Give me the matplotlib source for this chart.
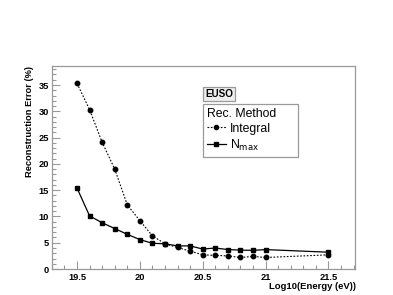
import numpy as np
import matplotlib.pyplot as plt
from matplotlib.lines import Line2D
from matplotlib.ticker import MultipleLocator

plt.rcParams['font.family'] = ['Liberation Sans', 'DejaVu Sans']

# Data
energy = [19.5, 19.6, 19.7, 19.8, 19.9, 20.0, 20.1, 20.2, 20.3, 20.4,
          20.5, 20.6, 20.7, 20.8, 20.9, 21.0, 21.5]
err_integral = [35.3, 30.3, 24.1, 19.0, 12.2, 9.2, 6.3, 4.8, 4.1, 3.4,
                2.7, 2.6, 2.5, 2.2, 2.4, 2.2, 2.7]
err_nmax = [15.4, 10.1, 8.8, 7.7, 6.6, 5.6, 4.9, 4.8, 4.4, 4.4,
            3.8, 4.0, 3.7, 3.6, 3.55, 3.7, 3.2]
x_ticks = [19.5, 20, 20.5, 21, 21.5]
x_tick_labels = ['19.5', '20', '20.5', '21', '21.5']
y_ticks = [0, 5, 10, 15, 20, 25, 30, 35]

frame = '#999999'

fig = plt.figure(figsize=(3.93, 2.95), dpi=100, facecolor='white')
ax = fig.add_axes([0.132, 0.088, 0.771, 0.688])

ax.plot(energy, err_integral, color='black', linestyle=(0, (1.5, 1.5)), linewidth=0.8,
        marker='o', markersize=3.2)
ax.plot(energy, err_nmax, color='black', linestyle='-', linewidth=0.9,
        marker='s', markersize=3.2)

ax.set_xlim(19.3, 21.71)
ax.set_ylim(0, 38.6)
ax.set_xticks(x_ticks)
ax.set_xticklabels(x_tick_labels)
ax.set_yticks(y_ticks)
ax.xaxis.set_minor_locator(MultipleLocator(0.1))
ax.yaxis.set_minor_locator(MultipleLocator(1))
ax.tick_params(which='both', direction='in', colors=frame, labelcolor='black',
               labelsize=6.7, width=0.8)
ax.tick_params(axis='x', pad=3)
ax.tick_params(axis='y', pad=2)
ax.tick_params(which='major', length=6)
ax.tick_params(which='minor', length=3)
for lab in ax.get_xticklabels() + ax.get_yticklabels():
    lab.set_fontweight('bold')
for spine in ax.spines.values():
    spine.set_color(frame)
    spine.set_linewidth(0.9)

fig.text(0.074, 0.776, 'Reconstruction Error (%)', rotation=90, ha='center', va='top',
         fontsize=6.7, fontweight='bold')
fig.text(0.905, 0.03, 'Log10(Energy (eV))', ha='right', va='center',
         fontsize=6.8, fontweight='bold')

# EUSO label box
fig.text(0.5225, 0.68, 'EUSO', ha='left', va='center', fontsize=7.1, fontweight='bold',
         bbox=dict(boxstyle='square,pad=0.2', facecolor='#eeeeee', edgecolor=frame, linewidth=0.9))

handles = [
    Line2D([], [], color='black', linestyle=(0, (1.5, 1.5)), linewidth=0.8, marker='o', markersize=3),
    Line2D([], [], color='black', linestyle='-', linewidth=0.9, marker='s', markersize=3),
]
leg = fig.legend(handles, ['Integral', r'N$_{\mathrm{max}}$'], title='Rec. Method',
                 loc='upper left', bbox_to_anchor=(0.5165, 0.471, 0.2417, 0.1765),
                 mode='expand', fontsize=8.8, title_fontsize=8.8, alignment='left',
                 fancybox=False, framealpha=1, edgecolor=frame, handlelength=1.6,
                 handletextpad=0.3, borderpad=0.3, labelspacing=0.25, borderaxespad=0)
leg.get_frame().set_linewidth(0.9)

fig.savefig('out.png', dpi=100)
